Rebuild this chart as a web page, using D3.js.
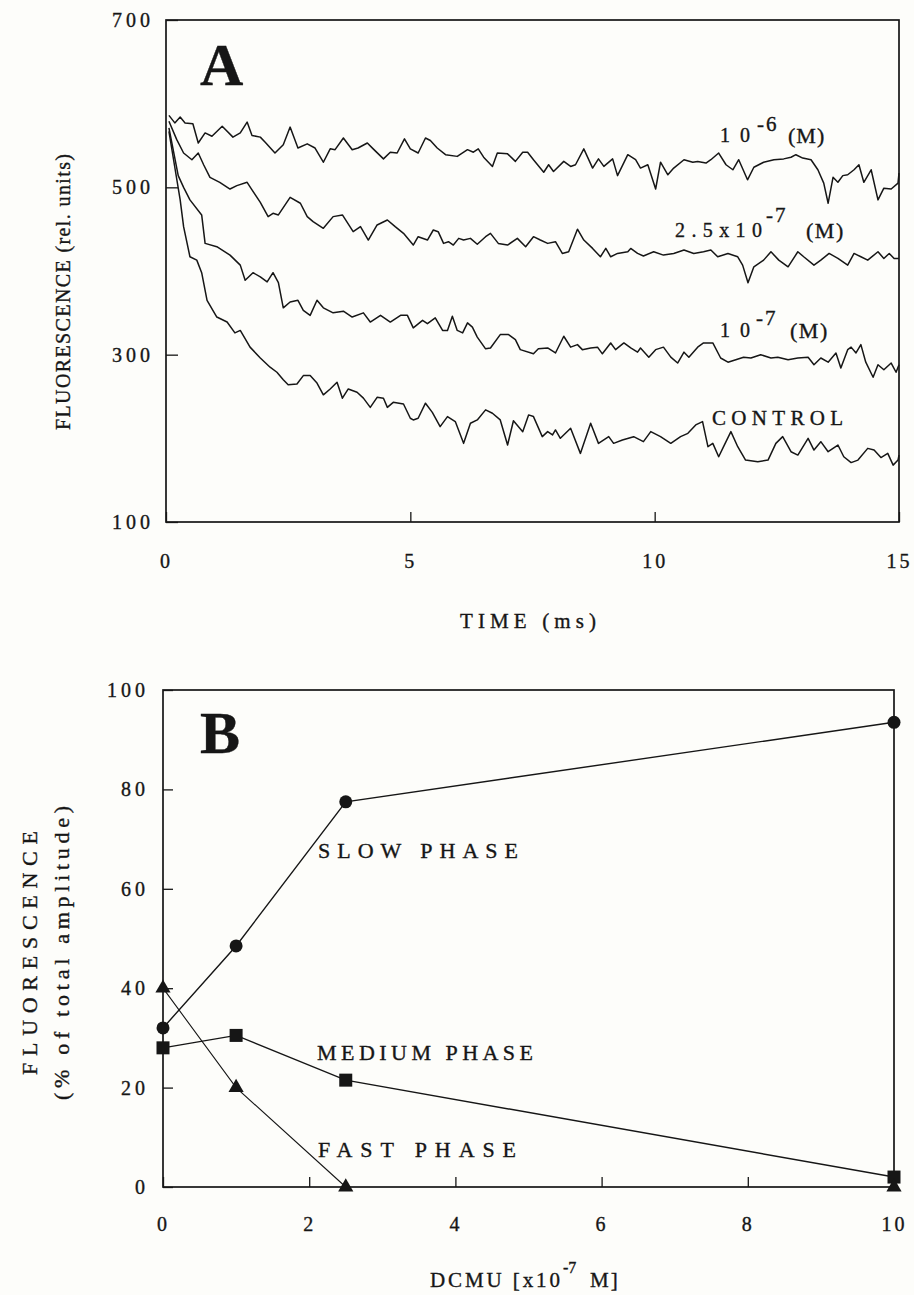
<!DOCTYPE html>
<html>
<head>
<meta charset="utf-8">
<title>DCMU and the fluorescence decay</title>
<script src="https://cdn.jsdelivr.net/npm/d3@7/dist/d3.min.js"></script>
<style>
  html, body { margin: 0; padding: 0; background: #fdfdfa; }
  svg { display: block; }
  text { font-family: "Liberation Serif", "Times New Roman", serif; fill: #161616;
         stroke: #161616; stroke-width: 0.35px; }
</style>
</head>
<body>
<svg id="fig" width="914" height="1295"></svg>
<script>
// ---------- Panel A: fluorescence decay, [time (ms), fluorescence (rel. units)] ----------
const traceM6 = [[0.06,586],[0.18,577],[0.29,584],[0.39,577],[0.55,576],[0.66,553],[0.80,565],[0.94,561],[1.15,573],[1.37,560],[1.52,565],[1.66,578],[1.76,562],[1.93,560],[2.03,554],[2.23,541],[2.40,551],[2.54,572],[2.70,547],[2.89,552],[3.05,547],[3.22,530],[3.36,546],[3.46,545],[3.63,559],[3.81,545],[3.93,547],[4.12,553],[4.24,546],[4.45,534],[4.59,542],[4.73,541],[4.88,558],[5.00,546],[5.16,541],[5.31,559],[5.41,556],[5.55,547],[5.72,539],[5.96,537],[6.17,545],[6.29,542],[6.39,546],[6.50,536],[6.68,525],[6.78,541],[6.99,540],[7.15,531],[7.30,542],[7.40,542],[7.52,533],[7.73,518],[7.83,527],[7.93,519],[8.14,531],[8.28,525],[8.38,527],[8.55,546],[8.73,523],[8.85,534],[8.96,525],[9.14,534],[9.24,514],[9.45,539],[9.61,533],[9.71,523],[9.86,527],[10.02,498],[10.12,530],[10.27,515],[10.39,523],[10.60,533],[10.78,530],[10.88,531],[11.05,529],[11.15,533],[11.31,541],[11.46,527],[11.60,521],[11.72,533],[11.90,509],[12.03,524],[12.23,530],[12.44,533],[12.64,534],[12.79,536],[12.89,539],[13.03,535],[13.20,533],[13.34,521],[13.46,505],[13.55,481],[13.65,512],[13.75,506],[13.85,514],[13.95,515],[14.08,521],[14.18,527],[14.28,506],[14.43,521],[14.57,485],[14.69,499],[14.84,498],[14.98,505],[15.00,517]];

const traceM25 = [[0.06,579],[0.22,557],[0.36,541],[0.53,533],[0.66,541],[0.77,527],[0.90,512],[1.10,506],[1.31,498],[1.45,502],[1.66,506],[1.76,497],[1.93,482],[2.09,465],[2.19,469],[2.30,467],[2.54,488],[2.75,481],[2.89,465],[3.01,459],[3.22,451],[3.42,465],[3.61,467],[3.83,447],[3.98,453],[4.14,437],[4.32,455],[4.53,461],[4.69,453],[4.86,445],[5.06,431],[5.16,441],[5.35,437],[5.47,449],[5.57,447],[5.68,433],[5.78,435],[5.88,431],[5.99,439],[6.09,437],[6.23,439],[6.37,432],[6.54,441],[6.64,445],[6.80,433],[6.99,431],[7.19,439],[7.36,429],[7.52,441],[7.66,437],[7.81,433],[7.97,435],[8.11,421],[8.24,423],[8.42,450],[8.55,437],[8.73,427],[8.89,417],[9.00,427],[9.10,417],[9.24,421],[9.45,423],[9.51,427],[9.65,421],[9.77,418],[9.98,423],[10.18,419],[10.39,421],[10.60,425],[10.80,421],[11.00,423],[11.15,425],[11.29,417],[11.50,421],[11.70,417],[11.80,407],[11.91,386],[12.03,405],[12.23,413],[12.38,423],[12.54,413],[12.73,405],[12.93,423],[13.05,417],[13.26,407],[13.40,413],[13.57,421],[13.75,415],[13.95,407],[14.08,421],[14.22,417],[14.36,413],[14.57,423],[14.69,415],[14.80,421],[14.90,415],[15.00,415]];

const traceM7 = [[0.06,571],[0.25,514],[0.36,500],[0.49,485],[0.73,467],[0.80,433],[1.04,429],[1.31,419],[1.52,407],[1.62,389],[1.78,398],[1.93,393],[2.07,387],[2.19,398],[2.30,386],[2.40,356],[2.54,363],[2.70,365],[2.81,353],[2.95,347],[3.09,365],[3.22,356],[3.42,350],[3.63,352],[3.81,345],[4.04,350],[4.18,339],[4.39,347],[4.59,339],[4.80,347],[4.94,347],[5.06,332],[5.25,341],[5.35,337],[5.51,344],[5.66,329],[5.76,329],[5.86,346],[5.96,329],[6.07,326],[6.17,338],[6.27,333],[6.37,321],[6.54,307],[6.64,308],[6.84,324],[7.01,324],[7.15,318],[7.25,306],[7.52,301],[7.62,307],[7.81,308],[7.97,302],[8.14,322],[8.28,309],[8.42,312],[8.52,306],[8.69,308],[8.83,309],[8.93,301],[9.10,314],[9.20,306],[9.37,314],[9.51,308],[9.65,303],[9.71,308],[9.88,297],[10.02,306],[10.18,309],[10.33,297],[10.47,290],[10.60,303],[10.70,297],[10.88,309],[11.00,314],[11.19,314],[11.35,296],[11.50,291],[11.66,294],[11.82,297],[11.97,296],[12.17,300],[12.38,296],[12.52,297],[12.73,294],[12.93,296],[13.14,297],[13.26,288],[13.40,296],[13.55,291],[13.71,302],[13.81,284],[13.95,306],[14.02,309],[14.12,302],[14.22,312],[14.32,291],[14.47,273],[14.57,288],[14.69,282],[14.84,290],[14.94,279],[15.00,288]];

const traceControl = [[0.06,567],[0.18,524],[0.29,485],[0.36,453],[0.49,417],[0.63,413],[0.73,398],[0.84,365],[1.04,345],[1.25,339],[1.41,326],[1.52,329],[1.72,309],[1.93,296],[2.13,285],[2.27,279],[2.40,270],[2.50,264],[2.68,265],[2.81,275],[2.95,275],[3.09,266],[3.22,252],[3.36,259],[3.50,267],[3.61,248],[3.73,259],[3.91,255],[4.04,248],[4.18,237],[4.32,249],[4.45,248],[4.53,237],[4.65,243],[4.86,241],[5.00,224],[5.06,222],[5.16,224],[5.31,242],[5.45,231],[5.61,214],[5.76,226],[5.92,220],[6.09,194],[6.23,218],[6.37,222],[6.54,234],[6.68,230],[6.84,222],[6.99,192],[7.11,221],[7.30,208],[7.42,228],[7.52,226],[7.70,202],[7.81,208],[7.91,204],[7.97,210],[8.07,200],[8.28,212],[8.48,182],[8.69,218],[8.85,194],[9.06,202],[9.16,194],[9.34,198],[9.57,202],[9.77,196],[9.92,208],[10.12,202],[10.33,194],[10.53,202],[10.68,206],[10.84,216],[10.98,220],[11.09,190],[11.19,194],[11.31,178],[11.41,190],[11.56,208],[11.70,190],[11.86,174],[12.11,172],[12.32,174],[12.48,194],[12.62,202],[12.79,184],[12.93,180],[13.14,200],[13.26,186],[13.40,196],[13.55,184],[13.75,192],[13.87,178],[14.02,171],[14.16,174],[14.36,188],[14.49,186],[14.63,177],[14.77,182],[14.88,168],[14.98,174],[15.00,180]];

const timeTicks = [0, 5, 10, 15];
const fluorTicks = [100, 300, 500, 700];

// ---------- Panel B: share of each decay phase vs DCMU concentration ----------
const dcmu        = [0, 1, 2.5, 10];
const slowPhase   = [32, 48.5, 77.5, 93.5];
const mediumPhase = [28, 30.5, 21.5, 2];
const fastPhase   = [40, 20, 0, 0];
const dcmuTicks    = [0, 2, 4, 6, 8, 10];
const percentTicks = [0, 20, 40, 60, 80, 100];

const ink = "#161616";
const svg = d3.select("#fig");

function frame(b) {
  svg.append("rect")
    .attr("x", b.left).attr("y", b.top)
    .attr("width", b.right - b.left).attr("height", b.bottom - b.top)
    .attr("fill", "none").attr("stroke", ink).attr("stroke-width", 1.7);
}

function styleAxis(g, size, spacing) {
  g.attr("font-size", size).attr("font-family", null);
  g.select(".domain").remove();
  g.selectAll(".tick line").attr("stroke", ink).attr("stroke-width", 1.3);
  g.selectAll(".tick text").attr("fill", ink).attr("letter-spacing", spacing);
}

// a piece of text, either stretched to a given width or given a letter spacing
function word(x, y, str, size, width, spacing) {
  const t = svg.append("text").attr("x", x).attr("y", y).attr("font-size", size).text(str);
  if (width) t.attr("textLength", width).attr("lengthAdjust", "spacing");
  if (spacing) t.attr("letter-spacing", spacing);
  return t;
}

// =================== Panel A ===================
const A = { left: 166, right: 899, top: 20, bottom: 522 };
const xA = d3.scaleLinear().domain([0, 15]).range([A.left, A.right]);
const yA = d3.scaleLinear().domain([100, 700]).range([A.bottom, A.top]);

frame(A);

svg.append("g").attr("transform", `translate(0,${A.bottom})`)
  .call(d3.axisBottom(xA).tickValues(timeTicks).tickFormat(d3.format("d"))
        .tickSizeInner(-10).tickSizeOuter(0).tickPadding(32))
  .call(g => styleAxis(g, 20, 3));

svg.append("g").attr("transform", `translate(${A.left},0)`)
  .call(d3.axisLeft(yA).tickValues(fluorTicks).tickFormat(d3.format("d"))
        .tickSizeInner(-12).tickSizeOuter(0).tickPadding(12))
  .call(g => styleAxis(g, 20, 4));

const lineA = d3.line().x(d => xA(d[0])).y(d => yA(d[1]));
[traceM6, traceM25, traceM7, traceControl].forEach(tr => {
  svg.append("path").datum(tr).attr("d", lineA)
    .attr("fill", "none").attr("stroke", ink).attr("stroke-width", 1.5)
    .attr("stroke-linejoin", "round");
});

svg.append("text").attr("x", 200).attr("y", 85).attr("font-size", 60)
  .attr("font-weight", "bold").text("A");

// concentration labels: mantissa, raised exponent, unit
word(720, 142, "10", 20, 30);
word(757, 131, "-6", 21, null, 2);
word(788, 143, "(M)", 22, null, 1);

word(675, 237, "2.5x10", 20, 87);
word(766, 222, "-7", 21, null, 2);
word(806, 238, "(M)", 22, null, 1.5);

word(720, 337, "10", 20, 30);
word(756, 325, "-7", 21, null, 2);
word(790, 338, "(M)", 22, null, 1.5);

word(712, 425, "CONTROL", 21, 131);

word(460, 628, "TIME (ms)", 21, 136);

svg.append("text").attr("transform", "translate(70,430) rotate(-90)")
  .attr("font-size", 20).attr("textLength", 276).attr("lengthAdjust", "spacing")
  .text("FLUORESCENCE (rel. units)");

// =================== Panel B ===================
const B = { left: 163, right: 894, top: 690, bottom: 1187 };
const xB = d3.scaleLinear().domain([0, 10]).range([B.left, B.right]);
const yB = d3.scaleLinear().domain([0, 100]).range([B.bottom, B.top]);

frame(B);

svg.append("g").attr("transform", `translate(0,${B.bottom})`)
  .call(d3.axisBottom(xB).tickValues(dcmuTicks).tickFormat(d3.format("d"))
        .tickSizeInner(-10).tickSizeOuter(0).tickPadding(30))
  .call(g => styleAxis(g, 20, 3));

svg.append("g").attr("transform", `translate(${B.left},0)`)
  .call(d3.axisLeft(yB).tickValues(percentTicks).tickFormat(d3.format("d"))
        .tickSizeInner(-10).tickSizeOuter(0).tickPadding(14))
  .call(g => styleAxis(g, 20, 4));

const rowsB = dcmu.map((c, i) => ({ c, slow: slowPhase[i], medium: mediumPhase[i], fast: fastPhase[i] }));
const lineB = key => d3.line().x(d => xB(d.c)).y(d => yB(d[key]));

svg.append("path").datum(rowsB.slice(0, 3)).attr("d", lineB("fast"))
  .attr("fill", "none").attr("stroke", ink).attr("stroke-width", 1.1);
svg.append("path").datum(rowsB).attr("d", lineB("medium"))
  .attr("fill", "none").attr("stroke", ink).attr("stroke-width", 1.4);
svg.append("path").datum(rowsB).attr("d", lineB("slow"))
  .attr("fill", "none").attr("stroke", ink).attr("stroke-width", 1.4);

svg.selectAll(".mk-slow").data(rowsB).join("circle").attr("class", "mk-slow")
  .attr("cx", d => xB(d.c)).attr("cy", d => yB(d.slow)).attr("r", 6.5).attr("fill", ink);
svg.selectAll(".mk-medium").data(rowsB).join("rect").attr("class", "mk-medium")
  .attr("x", d => xB(d.c) - 6.5).attr("y", d => yB(d.medium) - 6.5)
  .attr("width", 13).attr("height", 13).attr("fill", ink);
svg.selectAll(".mk-fast").data(rowsB).join("path").attr("class", "mk-fast")
  .attr("transform", d => `translate(${xB(d.c)},${yB(d.fast)})`)
  .attr("d", d3.symbol().type(d3.symbolTriangle).size(100)).attr("fill", ink);

svg.append("text").attr("x", 200).attr("y", 753).attr("font-size", 60)
  .attr("font-weight", "bold").text("B");

word(318, 858, "SLOW PHASE", 22, 200);
word(317, 1060, "MEDIUM PHASE", 22, 216);
word(318, 1157, "FAST PHASE", 22, 198);

word(430, 1287, "DCMU [x10", 21, 130);
svg.append("text").attr("x", 563).attr("y", 1273).attr("font-size", 16).text("-7");
word(590, 1287, "M]", 21, null, 2);

svg.append("text").attr("transform", "translate(37,1075) rotate(-90)")
  .attr("font-size", 22).attr("textLength", 244).attr("lengthAdjust", "spacing")
  .text("FLUORESCENCE");
svg.append("text").attr("transform", "translate(69,1100) rotate(-90)")
  .attr("font-size", 22).attr("textLength", 294).attr("lengthAdjust", "spacing")
  .text("(% of total amplitude)");
</script>
</body>
</html>
